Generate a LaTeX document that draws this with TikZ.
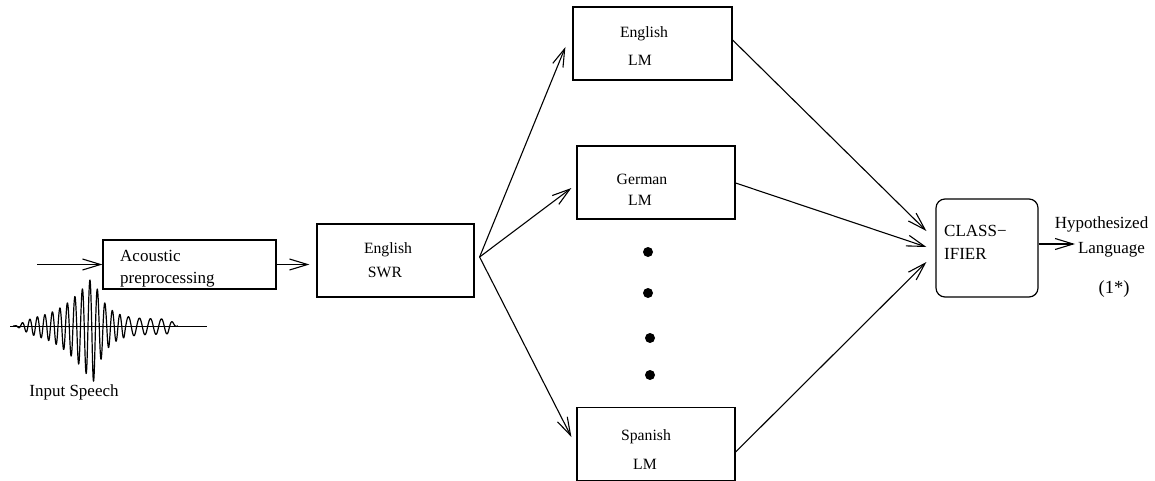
\documentclass[tikz,border=0pt]{standalone}
\usepackage{fontspec}
\setmainfont{Liberation Serif}
\usetikzlibrary{arrows.meta}

\begin{document}
\begin{tikzpicture}[x=1pt, y=-1pt,
  box/.style={draw, line width=1.2pt, minimum width=#1, inner sep=0pt},
  lmbox/.style={box=158pt, minimum height=73pt},
  lbl/.style={inner sep=0pt, font=\fontsize{17}{20}\selectfont, anchor=base},
  slbl/.style={inner sep=0pt, font=\fontsize{15.7}{19}\selectfont, anchor=base},
  arr/.style={line width=1.1pt, -{Straight Barb[length=18pt, width=11pt, line width=1.1pt]}},
  dot/.style={circle, fill, inner sep=0pt, minimum size=10pt},
  declare function={
    rise(\t) = 10 + 40*((min(\t,93)-33)/60)^2;
    fall(\t) = 7 + 43*exp(-max(\t-93,0)/12);
    env(\t)  = (\t < 93) ? rise(\t) : fall(\t);
    amp(\t)  = env(\t) * (1 - exp(-((\t-13)/16)^2)) * (1 - exp(-((178-\t)/6)^2));
    ph(\t)   = (\t < 125) ? (48*(\t-13)) : (5376 + 32.727*(\t-125));
  }]
  \useasboundingbox (0,0) rectangle (1155,481);

  % processing blocks
  \node[box=173pt, minimum height=49pt] (acoustic) at (189.5,264.5) {};
  \node[box=157pt, minimum height=73pt] (swr) at (395.5,260.5) {};
  \node[lmbox, minimum width=159pt] (englm) at (652.5,43.5) {};
  \node[lmbox] (gerlm) at (656,182.5) {};
  \node[lmbox] (spalm) at (656,444) {};
  \node[draw, line width=1.2pt, rounded corners=9pt, minimum width=102pt,
        minimum height=98pt, inner sep=0pt] (cls) at (987,248) {};

  % block labels
  \node[lbl, anchor=base west] (ac1) at (120,261.5) {Acoustic};
  \node[lbl, anchor=base west] (ac2) at (120,283.5) {preprocessing};
  \node[slbl] (sw1) at (388,253) {English};
  \node[slbl] (sw2) at (385,277.5) {SWR};
  \node[slbl] (en1) at (644,38) {English};
  \node[slbl] (en2) at (640,66) {LM};
  \node[slbl] (ge1) at (642,185) {German};
  \node[slbl] (ge2) at (640,205) {LM};
  \node[slbl] (sp1) at (646,440.5) {Spanish};
  \node[slbl] (sp2) at (645,469) {LM};
  \node[lbl, anchor=base west] (cl1) at (944,236) {CLASS−};
  \node[lbl, anchor=base west] (cl2) at (944,259) {IFIER};
  \node[lbl] (hyp1) at (1101.5,228.5) {Hypothesized};
  \node[lbl] (hyp2) at (1111.5,253.5) {Language};
  \node[inner sep=0pt, font=\fontsize{18.5}{22}\selectfont, anchor=base] (star) at (1114,293) {(1*)};
  \node[lbl] (speech) at (74,396.5) {Input Speech};

  % ellipsis between the language models
  \node[dot] (d1) at (648,252) {};
  \node[dot] (d2) at (648,293) {};
  \node[dot] (d3) at (650,338) {};
  \node[dot] (d4) at (650,375) {};

  % speech waveform on its time axis
  \coordinate (ax0) at (10,326);
  \coordinate (ax1) at (207,326);
  \draw[line width=0.9pt] (ax0) -- (ax1);
  \draw[line width=1.2pt, line join=round]
    plot[domain=13:178, samples=700]
      (\x, {326 - amp(\x)*sin(ph(\x))*(sin(ph(\x))<0 ? 1.15 : 1)});

  % signal flow
  \coordinate (in) at (37,264.5);
  \draw[arr] (in) -- (acoustic.west);
  \draw[arr, shorten >=7pt] (acoustic.east) -- (swr.west |- acoustic.east);

  \coordinate (fan) at ([xshift=5pt, yshift=3.5pt]swr.east);
  \draw[arr] (fan) -- ([xshift=-7pt, yshift=-3.5pt]englm.west);
  \draw[arr] (fan) -- ([xshift=-5pt, yshift=-5.5pt]gerlm.west);
  \draw[arr] (fan) -- ([xshift=-5pt, yshift=7pt]spalm.west);

  \draw[arr] ([yshift=3.5pt]englm.east) -- ([xshift=-9pt, yshift=17pt]cls.west);
  \draw[arr] ([yshift=-0.5pt]gerlm.east) -- ([xshift=-9pt, yshift=1pt]cls.west);
  \draw[arr] ([yshift=-8pt]spalm.east) -- ([xshift=-9pt, yshift=-14pt]cls.west);

  \coordinate (out) at (1075,244);
  \draw[arr] (cls.east |- out) -- (out);
\end{tikzpicture}
\end{document}
